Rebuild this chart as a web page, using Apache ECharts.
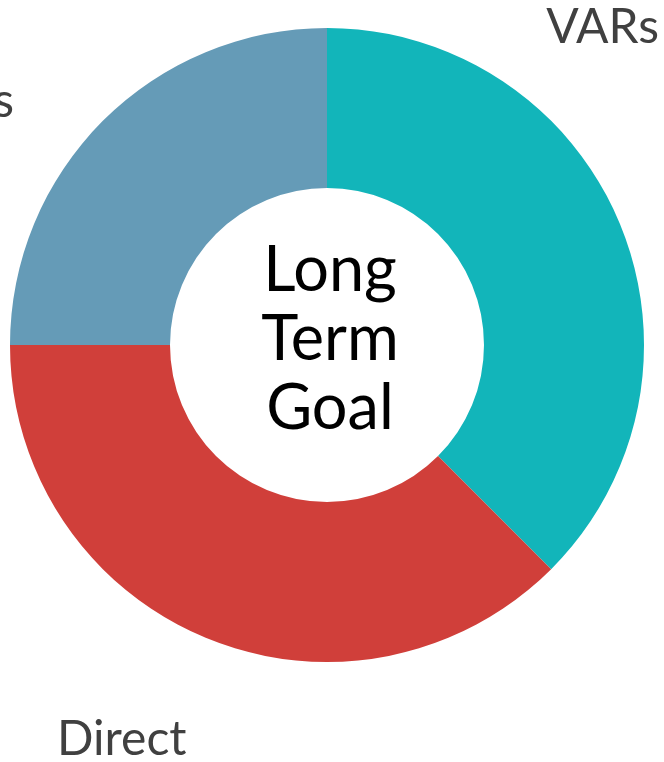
<!DOCTYPE html>
<html>
<head>
<meta charset="utf-8">
<script src="https://cdn.jsdelivr.net/npm/echarts@6/dist/echarts.min.js"></script>
<style>
html,body{margin:0;padding:0;background:#fff;}
#chart{width:664px;height:762px;}
</style>
</head>
<body>
<div id="chart"></div>
<script>
const categories = ['VARs', 'Direct', 'Partners'];
const values = [37.5, 37.5, 25];
const colors = ['#12B5BA', '#D03F3A', '#659BB7'];
const centerText = 'Long\nTerm\nGoal';

const labelPos = [
  { x: 659, y: 28, align: 'right' },
  { x: 57, y: 740, align: 'left' },
  { x: 14, y: 102, align: 'right' }
];

const chart = echarts.init(document.getElementById('chart'));
chart.setOption({
  backgroundColor: '#fff',
  animation: false,
  graphic: [{
    type: 'text',
    x: 330,
    y: 340,
    style: {
      text: centerText,
      font: '63px Lato',
      fill: '#000',
      align: 'center',
      verticalAlign: 'middle',
      lineHeight: 69
    }
  }],
  series: [{
    type: 'pie',
    center: [327, 345],
    radius: [157, 317],
    startAngle: 90,
    clockwise: true,
    avoidLabelOverlap: false,
    label: {
      show: true,
      position: 'outside',
      fontFamily: 'Lato',
      fontSize: 48,
      color: '#404040',
      overflow: 'none',
      formatter: '{b}'
    },
    labelLine: { show: false },
    labelLayout: function (p) {
      const lp = labelPos[p.dataIndex];
      return { x: lp.x, y: lp.y, align: lp.align, verticalAlign: 'middle', hideOverlap: false, moveOverlap: null };
    },
    itemStyle: { borderWidth: 0 },
    emphasis: { disabled: true },
    data: categories.map((c, i) => ({
      name: c,
      value: values[i],
      itemStyle: { color: colors[i] }
    }))
  }]
});
</script>
</body>
</html>
